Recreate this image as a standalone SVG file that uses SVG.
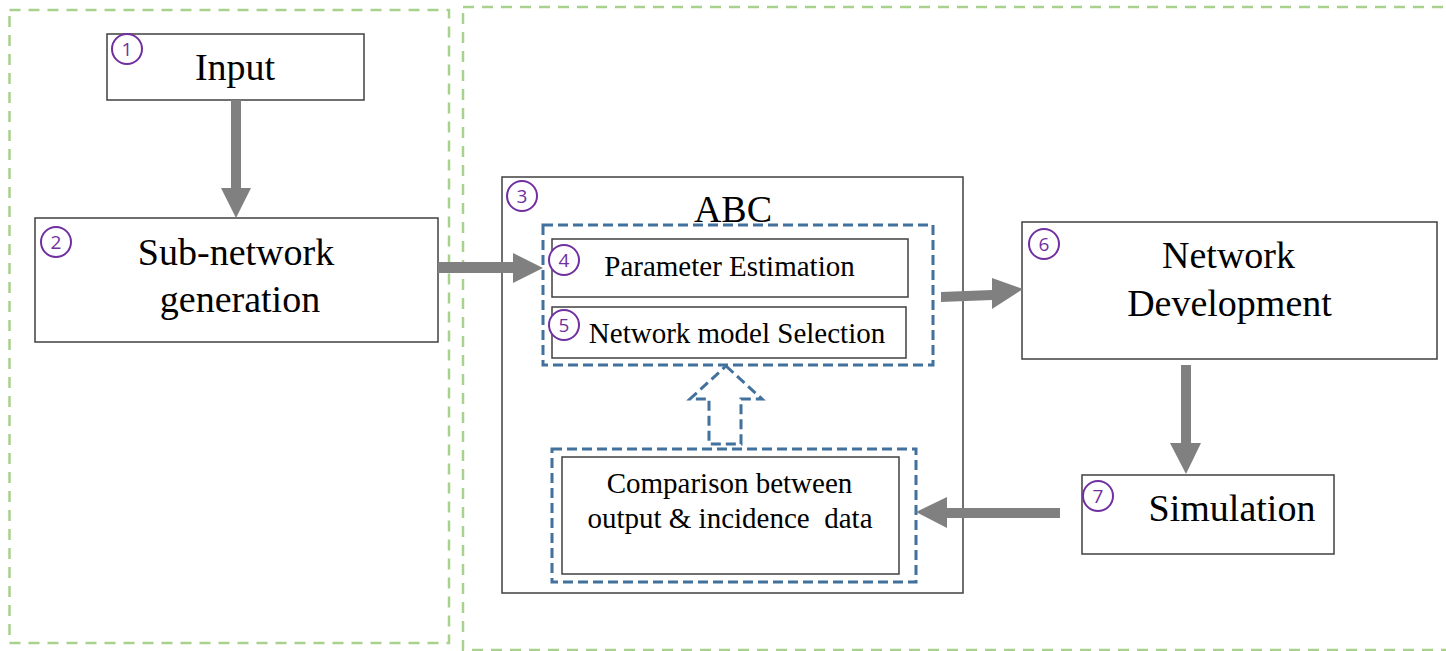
<svg xmlns="http://www.w3.org/2000/svg" width="1446" height="651" viewBox="0 0 1446 651">
<style>
.grp{fill:none;stroke:#a9d18e;stroke-width:2.5;stroke-dasharray:11 8}
.box{fill:#fff;stroke:#404040;stroke-width:1.5}
.blue{fill:none;stroke:#41719c;stroke-width:3;stroke-dasharray:10 5}
.num{fill:#fff;stroke:#7030a0;stroke-width:2}
.numt{font-family:"Open Sans","Liberation Sans",sans-serif;font-size:19px;fill:#7030a0;text-anchor:middle}
.big{font-family:"Liberation Serif","Times New Roman",serif;font-size:38px;fill:#000;text-anchor:middle}
.mid{font-family:"Liberation Serif","Times New Roman",serif;font-size:29px;fill:#000;text-anchor:middle}
.arr{fill:#808080;stroke:none}
</style>
<rect width="1446" height="651" fill="#fff"/>
<g id="groups">
<rect class="grp" x="9.5" y="10" width="439.5" height="633"/>
<rect class="grp" x="463" y="7" width="990" height="643"/>
</g>
<g id="node-input">
<rect class="box" x="107" y="34" width="257" height="66"/>
<circle class="num" cx="127" cy="49" r="15"/>
<text class="numt" x="127" y="56">1</text>
<text class="big" x="235" y="80">Input</text>
</g>
<g id="node-subnetwork">
<rect class="box" x="35" y="218" width="403" height="124"/>
<circle class="num" cx="56" cy="242" r="15"/>
<text class="numt" x="56" y="249">2</text>
<text class="big" x="236" y="265">Sub-network</text>
<text class="big" x="240" y="312">generation</text>
</g>
<g id="node-abc">
<rect class="box" x="502" y="177" width="461" height="416"/>
<circle class="num" cx="522" cy="196" r="15"/>
<text class="numt" x="522" y="203">3</text>
<text class="big" x="733" y="222">ABC</text>
<rect class="blue" x="543" y="225" width="390" height="140"/>
</g>
<g id="node-param">
<rect class="box" x="552" y="239" width="356" height="58"/>
<circle class="num" cx="564" cy="260" r="15"/>
<text class="numt" x="564" y="267">4</text>
<text class="mid" x="729.5" y="276">Parameter Estimation</text>
</g>
<g id="node-model">
<rect class="box" x="552" y="307" width="354" height="51"/>
<circle class="num" cx="564" cy="325" r="15"/>
<text class="numt" x="564" y="332">5</text>
<text class="mid" x="737" y="343">Network model Selection</text>
</g>
<g id="node-comparison">
<rect class="blue" x="552" y="449" width="364" height="133"/>
<rect class="box" x="562" y="457" width="337" height="117"/>
<text class="mid" x="729.5" y="493" font-size="28">Comparison between</text>
<text class="mid" x="730" y="528" font-size="28" style="white-space:pre">output &amp; incidence  data</text>
</g>
<g id="node-netdev">
<rect class="box" x="1022" y="222" width="415" height="137"/>
<circle class="num" cx="1044" cy="244" r="15"/>
<text class="numt" x="1044" y="251">6</text>
<text class="big" x="1228.5" y="268">Network</text>
<text class="big" x="1229.5" y="316">Development</text>
</g>
<g id="node-simulation">
<rect class="box" x="1082" y="475" width="252" height="79"/>
<circle class="num" cx="1098" cy="496" r="15"/>
<text class="numt" x="1098" y="503">7</text>
<text class="big" x="1232" y="521">Simulation</text>
</g>
<g id="connectors">
<polygon class="arr" points="231,100 241,100 241,188 251,188 236,218 221,188 231,188"/>
<polygon class="arr" points="438,262 513,262 513,253 543,268 513,283 513,273 438,273"/>
<polygon class="arr" points="941,292 992,290 992,278 1023,289 992,309 992,300 941,302"/>
<polygon class="arr" points="1181,365 1191,365 1191,443 1201,443 1186,474 1170,443 1181,443"/>
<polygon class="arr" points="1060,508 947,508 947,497 916,512 947,528 947,518 1060,518"/>
<polygon class="blue" points="726,366 762,399 741,399 741,444 709,444 709,399 690,399"/>
</g>
</svg>
